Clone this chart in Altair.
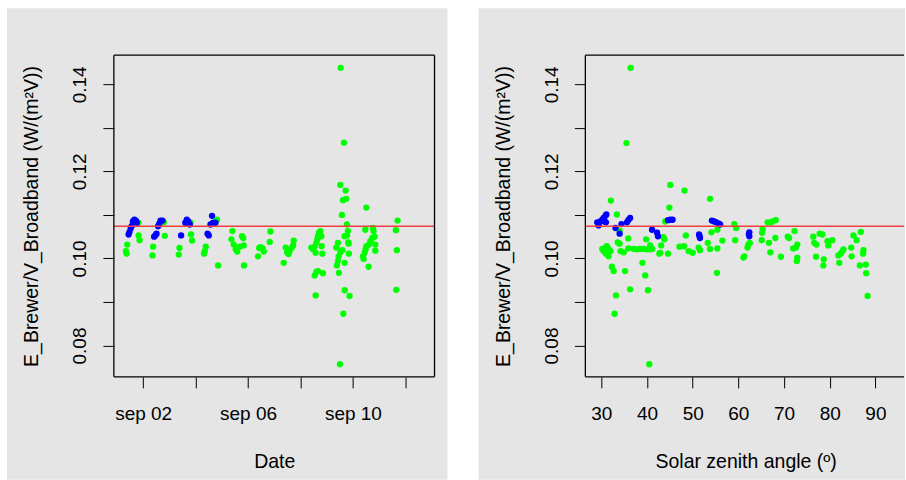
import altair as alt
import pandas as pd

# ---------------- data ----------------
REF_VALUE = 0.1074
Y_DOMAIN = [0.0728, 0.1467]

# Left panel: time series (UTC), day of September, time of day, ratio, group
left_day = [1]*14 + [2]*11 + [3]*10 + [4]*11 + [5]*10 + [6]*7 + [7]*8 + [8]*17 + [9]*27 + [10]*16 + [11]*4
left_time = [
    "08:12", "08:53", "09:25", "10:42", "11:25", "12:31", "13:26", "14:37", "16:00", "17:22", "18:17", "19:28", "19:50", "20:45",
    "08:35", "09:08", "10:03", "11:09", "12:15", "13:42", "14:48", "15:54", "17:44", "18:55", "19:50",
    "08:38", "09:16", "10:44", "14:35", "15:57", "17:19", "18:41", "19:19", "19:51", "20:46",
    "07:46", "08:25", "09:19", "10:58", "12:04", "13:37", "15:05", "16:00", "18:12", "19:40", "20:35",
    "08:49", "09:44", "10:55", "12:45", "14:07", "16:24", "18:30", "19:36", "20:04", "20:22",
    "09:08", "10:14", "11:36", "13:26", "14:21", "19:50", "20:28",
    "08:38", "10:28", "11:50", "13:12", "14:07", "15:57", "17:19", "17:47",
    "09:58", "11:25", "12:58", "13:00", "13:53", "13:55", "14:32", "14:34", "15:27", "16:00", "16:02", "16:55", "18:12", "19:07", "19:24", "20:02", "20:35",
    "08:49", "09:22", "10:17", "10:20", "10:55", "11:12", "12:07", "12:29", "12:31", "12:45", "13:56", "14:18", "14:51", "15:13", "15:46", "16:24", "16:26", "16:28", "17:19", "17:56", "18:30", "18:32", "19:24", "19:43", "20:00", "20:17", "20:54",
    "09:08", "09:47", "10:42", "11:20", "11:36", "12:14", "12:16", "14:20", "14:37", "15:54", "17:44", "18:17", "18:55", "19:50", "20:28", "20:30",
    "15:18", "15:41", "16:13", "16:51",
]
left_value = [
    0.1017, 0.1011, 0.1032, 0.1055, 0.1060, 0.1068, 0.1074, 0.1085, 0.1089, 0.1087, 0.1082, 0.1082, 0.1053, 0.1042,
    0.1007, 0.1027, 0.1050, 0.1053, 0.1057, 0.1074, 0.1080, 0.1087, 0.1087, 0.1083, 0.1052,
    0.1009, 0.1024, 0.1053, 0.1082, 0.1089, 0.1085, 0.1078, 0.1083, 0.1055, 0.1041,
    0.1011, 0.1017, 0.1027, 0.1057, 0.1053, 0.1078, 0.1098, 0.1082, 0.1082, 0.1089, 0.0984,
    0.1044, 0.1063, 0.1032, 0.1021, 0.1016, 0.1027, 0.1051, 0.1047, 0.1030, 0.0984,
    0.1005, 0.1024, 0.1026, 0.1023, 0.1016, 0.1038, 0.1062,
    0.0990, 0.1025, 0.1014, 0.1010, 0.1018, 0.1025, 0.1030, 0.1041,
    0.1025, 0.1021, 0.1027, 0.0961, 0.1013, 0.0915, 0.1036, 0.0969, 0.1044, 0.1051, 0.0971, 0.1059, 0.1063, 0.1051, 0.1028, 0.1011, 0.0966,
    0.1025, 0.0984, 0.1036, 0.0994, 0.1005, 0.0967, 0.0757, 0.1169, 0.1014, 0.1438, 0.1100, 0.1019, 0.1134, 0.0873, 0.1266, 0.1051, 0.0990, 0.0927, 0.1156, 0.1137, 0.1078, 0.1053, 0.1063, 0.1037, 0.1034, 0.1011, 0.0914,
    0.1005, 0.0999, 0.1013, 0.1066, 0.1021, 0.1117, 0.1028, 0.0981, 0.1032, 0.1040, 0.1047, 0.1070, 0.1063, 0.1050, 0.1032, 0.1018,
    0.1065, 0.0928, 0.1019, 0.1087,
]
C, O = "calibration", "other"
left_group = (
    [O, O, O, C, C, C, C, C, C, C, C, O, O, O]
    + [O, O, C, C, C, C, C, C, C, O, O]
    + [O, O, C, C, C, C, C, O, O, O]
    + [O, O, O, C, C, C, C, C, C, O, O]
    + [O]*10 + [O]*7 + [O]*8 + [O]*17 + [O]*27 + [O]*16 + [O]*4
)

# Right panel: solar zenith angle (deg), ratio, group
right_sza = [
    29.1, 29.4, 29.8, 30.2, 30.5, 30.9, 31.1, 30.7, 31.0, 33.1, 34.0, 34.4, 35.6, 35.9, 36.3,
    41.1, 42.2, 42.4, 44.6, 45.1, 45.6, 51.4, 51.6, 51.5, 54.2, 54.7, 55.2, 55.7, 56.0, 62.4, 62.4, 62.3,
    45.1, 48.2, 44.9, 32.1, 33.4, 44.0, 34.0, 35.9, 39.8, 43.6, 43.8, 33.6, 34.0, 40.7, 41.1, 48.5, 48.1, 47.1, 43.1, 42.9,
    30.2, 30.5, 30.9, 31.2, 31.6, 32.0, 31.0, 31.6, 34.2, 34.9,
    35.9, 37.1, 37.8, 38.5, 39.3, 40.0, 40.7, 42.7, 44.6, 49.1, 50.0,
    32.3, 32.7, 35.2, 39.0, 39.6, 36.3, 40.2, 33.2, 32.9, 40.5, 36.4, 35.5,
    53.8, 51.3, 51.6, 53.3, 53.8, 54.1, 55.4, 55.4, 56.5, 55.3, 59.1, 59.5, 59.3, 62.0, 62.2, 62.5, 61.3, 61.1,
    65.2, 65.3, 65.1, 66.4, 67.1, 67.5, 68.2, 66.7, 67.0, 68.1, 69.3, 70.8, 71.1, 72.3, 72.0, 72.6, 72.9, 72.9, 72.8,
    76.4, 76.6, 77.1, 77.0, 77.8, 78.4, 79.5, 79.7, 78.7, 78.6, 80.6, 81.9, 82.4, 82.8, 83.0, 82.1,
    84.7, 84.8, 85.2, 85.9, 86.8, 87.4, 87.3, 86.6, 87.9, 88.0, 88.3,
]
right_value = [
    0.1083, 0.1076, 0.1085, 0.1089, 0.1093, 0.1098, 0.1101, 0.1085, 0.1083, 0.1070, 0.1057, 0.1079, 0.1083, 0.1088, 0.1093,
    0.1066, 0.1059, 0.1051, 0.1088, 0.1089, 0.1089, 0.1055, 0.1047, 0.1051, 0.1087, 0.1085, 0.1083, 0.1080, 0.1078, 0.1060, 0.1051, 0.1056,
    0.1169, 0.1156, 0.1117, 0.1133, 0.1101, 0.1085, 0.1064, 0.1046, 0.1044, 0.1049, 0.1044, 0.1037, 0.1034, 0.1030, 0.1022, 0.1053, 0.1028, 0.1027, 0.1030, 0.1013,
    0.1022, 0.1017, 0.1025, 0.1028, 0.1022, 0.1017, 0.1011, 0.1005, 0.1017, 0.1014,
    0.1023, 0.1022, 0.1021, 0.1022, 0.1022, 0.1021, 0.1021, 0.1011, 0.1011, 0.1017, 0.1013,
    0.0981, 0.0971, 0.0971, 0.0990, 0.0961, 0.0929, 0.0927, 0.0915, 0.0873, 0.0757, 0.1438, 0.1265,
    0.1137, 0.1025, 0.1019, 0.1036, 0.1022, 0.1060, 0.1066, 0.1023, 0.1041, 0.0967, 0.1079, 0.1070, 0.1042, 0.1025, 0.1032, 0.1036, 0.1005, 0.1002,
    0.1059, 0.1068, 0.1042, 0.1083, 0.1083, 0.1085, 0.1088, 0.1036, 0.1014, 0.1047, 0.1004, 0.1050, 0.1047, 0.1063, 0.1023, 0.1025, 0.1032, 0.1002, 0.0994,
    0.1050, 0.1036, 0.1032, 0.1004, 0.1057, 0.1055, 0.1040, 0.1030, 0.0998, 0.0984, 0.1042, 0.1007, 0.1011, 0.1017, 0.1021, 0.0990,
    0.1025, 0.1005, 0.1053, 0.1042, 0.1061, 0.1019, 0.1011, 0.0984, 0.0986, 0.0966, 0.0914,
]
right_group = [C]*32 + [O]*(len(right_sza) - 32)

left_ticks = [2, 4, 6, 8, 10, 12]
left_labelled = ["02", "06", "10"]
right_ticks = [30, 40, 50, 60, 70, 80, 90]
y_ticks = [0.08, 0.09, 0.10, 0.11, 0.12, 0.13, 0.14]
y_labelled = ["0.08", "0.10", "0.12", "0.14"]

Y_TITLE = "E_Brewer/V_Broadband (W/(m\u00b2V))"
LEFT_X_TITLE = "Date"
RIGHT_X_TITLE = "Solar zenith angle (\u00ba)"

# ---------------- style ----------------
FONT = "Liberation Sans"
PW, PH = 321, 322
GREY = "#e5e5e5"
GREEN, BLUE, RED = "#00ff00", "#0000ff", "#f04040"
PT_SIZE = 40
FRAME_W = 1.3

left_df = pd.DataFrame({
    "date": [f"2019-09-{d:02d}T{t}:00Z" for d, t in zip(left_day, left_time)],
    "value": left_value,
    "grp": left_group,
})
right_df = pd.DataFrame({"sza": right_sza, "value": right_value, "grp": right_group})
ref_df = pd.DataFrame({"value": [REF_VALUE]})
one = pd.DataFrame({"k": [0]})

y_axis = alt.Axis(
    values=y_ticks,
    labelExpr="indexof(" + str(y_labelled) + ", format(datum.value, '.2f')) >= 0 ? format(datum.value, '.2f') : ''",
    labelAngle=270, labelAlign="center", labelBaseline="alphabetic", labelPadding=17,
    title=Y_TITLE, titleAngle=270, titleAlign="center", titleBaseline="alphabetic",
    titleX=-76, titleY=161, zindex=1,
)
y_enc = alt.Y("value:Q", scale=alt.Scale(domain=Y_DOMAIN, nice=False, zero=False), axis=y_axis)
color_enc = alt.Color("grp:N", scale=alt.Scale(domain=[O, C], range=[GREEN, BLUE]), legend=None)


def x_axis(title, **kw):
    return alt.Axis(
        labelAngle=0, labelAlign="center", labelBaseline="alphabetic", labelPadding=32,
        title=title, titleAngle=0, titleAlign="center", titleBaseline="alphabetic",
        titleX=PW / 2, titleY=91, zindex=1, **kw,
    )


left_x = alt.X(
    "date:T",
    scale=alt.Scale(type="utc", domain=[
        alt.DateTime(year=2019, month=8, date=31, hours=21, minutes=13, utc=True),
        alt.DateTime(year=2019, month=9, date=13, hours=2, minutes=41, utc=True),
    ]),
    axis=x_axis(
        LEFT_X_TITLE,
        values=[alt.DateTime(year=2019, month=9, date=d, utc=True) for d in left_ticks],
        labelExpr="indexof(" + str(left_labelled) + ", utcFormat(datum.value, '%d')) >= 0 ? 'sep ' + utcFormat(datum.value, '%d') : ''",
    ),
)
right_x = alt.X(
    "sza:Q",
    scale=alt.Scale(domain=[26.5, 96.7], nice=False, zero=False),
    axis=x_axis(RIGHT_X_TITLE, values=right_ticks, format="d"),
)


def panel(df, xenc, bg_right, frame_right, full_box):
    bg = alt.Chart(one).mark_rect(color=GREY).encode(
        x=alt.value(-107), x2=alt.value(bg_right), y=alt.value(-47), y2=alt.value(425)
    )
    pts_o = alt.Chart(df).transform_filter(alt.datum.grp == O).mark_circle(size=PT_SIZE, opacity=1).encode(
        x=xenc, y=y_enc, color=color_enc)
    pts_c = alt.Chart(df).transform_filter(alt.datum.grp == C).mark_circle(size=PT_SIZE, opacity=1).encode(
        x=xenc, y=y_enc, color=color_enc)
    ref = alt.Chart(ref_df).mark_rule(color=RED, strokeWidth=1.6).encode(
        y=y_enc, x=alt.value(0), x2=alt.value(frame_right))
    lines = [
        alt.Chart(one).mark_rule(color="black", strokeWidth=FRAME_W).encode(
            x=alt.value(0), x2=alt.value(frame_right), y=alt.value(0)),
        alt.Chart(one).mark_rule(color="black", strokeWidth=FRAME_W).encode(
            x=alt.value(0), x2=alt.value(frame_right), y=alt.value(PH)),
        alt.Chart(one).mark_rule(color="black", strokeWidth=FRAME_W).encode(
            x=alt.value(0), y=alt.value(0), y2=alt.value(PH)),
    ]
    if full_box:
        lines.append(alt.Chart(one).mark_rule(color="black", strokeWidth=FRAME_W).encode(
            x=alt.value(PW), y=alt.value(0), y2=alt.value(PH)))
    return alt.layer(bg, pts_o, pts_c, ref, *lines).properties(width=PW, height=PH)


left = panel(left_df, left_x, 334, PW, True)
right = panel(right_df, right_x, 320, 319, False)

chart = (
    alt.hconcat(left, right, spacing=151, bounds="flush")
    .properties(padding={"left": 7, "top": 8, "right": 0, "bottom": 0})
    .configure(background="white")
    .configure_view(strokeWidth=0)
    .configure_axis(
        domain=False, grid=False, ticks=True, tickSize=11, tickColor="black", tickWidth=1,
        labelFont=FONT, labelFontSize=19, labelColor="black", labelFlush=False, labelOverlap=False,
        titleFont=FONT, titleFontSize=19.5, titleFontWeight="normal", titleColor="black",
    )
)

chart.save("out.html", embed_options={"renderer": "svg", "actions": False})
